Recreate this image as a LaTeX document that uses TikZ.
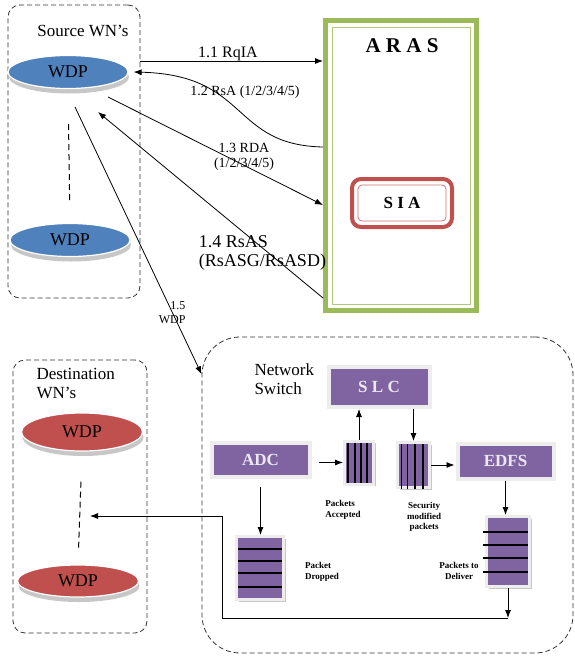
\documentclass[tikz,border=0pt]{standalone}
\usepackage{fontspec}
\setmainfont{Liberation Serif}
\usepackage{tikz}
\usetikzlibrary{arrows.meta}
\usetikzlibrary{shapes.geometric}
\usetikzlibrary{shadows}
\definecolor{wblue}   {RGB}{79,129,189}
\definecolor{wred}    {RGB}{192,80,77}
\definecolor{agreen}  {RGB}{155,187,89}
\definecolor{spurple} {RGB}{128,100,162}
\definecolor{slight}  {RGB}{236,232,242}
\tikzset{
    wnbox/.style={draw=black!80, line width=0.8pt, dash pattern=on 5pt off 3pt,
             rounded corners=12pt, inner sep=0pt},
    netbox/.style={wnbox, rounded corners=38pt},
    grouptitle/.style={font=\fontsize{17}{19}\selectfont, align=left},
    wdp/.style={ellipse, draw=white, line width=1.2pt, inner sep=0pt,
             minimum width=120pt, minimum height=33pt, font=\fontsize{18}{18}\selectfont,
             drop shadow={shadow xshift=1pt, shadow yshift=-5pt, fill=black!22, opacity=1}},
    wdpsrc/.style={wdp, fill=wblue},
    wdpdst/.style={wdp, fill=wred},
    dashline/.style={draw=black, line width=1pt, dash pattern=on 6pt off 4pt},
    arasbox/.style={draw=agreen, line width=5pt, fill=white, inner sep=0pt,
             minimum width=151pt, minimum height=290pt},
    arasinner/.style={draw=agreen!80, line width=1pt, inner sep=0pt,
             minimum width=138pt, minimum height=277pt},
    siabox/.style={draw=wred, line width=4pt, rounded corners=9pt, inner sep=0pt,
             minimum width=100pt, minimum height=48pt, font=\bfseries\fontsize{17}{17}\selectfont},
    siainner/.style={draw=wred!80, line width=0.8pt, rounded corners=4pt, inner sep=0pt,
             minimum width=88pt, minimum height=36pt},
    block/.style={fill=spurple, draw=black!7, line width=4pt, inner sep=0pt, text=slight,
             font=\bfseries\fontsize{17}{17}\selectfont,
             drop shadow={shadow xshift=2pt, shadow yshift=-2pt, fill=black!22, opacity=1}},
    queue/.style={fill=spurple, draw=black!7, line width=3pt, inner sep=0pt,
             drop shadow={shadow xshift=2pt, shadow yshift=-2pt, fill=black!22, opacity=1}},
    qline/.style={draw=black, line width=1.4pt},
    flow/.style={draw=black, line width=0.8pt, ->},
    msglabel/.style={font=\fontsize{16}{18}\selectfont, align=center},
    qlabel/.style={font=\bfseries\fontsize{9}{10.5}\selectfont}
  }
\begin{document}
\begin{tikzpicture}[x=1pt, y=-1pt, >={Latex[length=8pt,width=6pt]}]
  \useasboundingbox (0,0) rectangle (574,656);
  %Source WN's
      \node[wnbox, minimum width=132pt, minimum height=293pt] (src) at (74,151.5) {};
      \node[grouptitle] (srctitle) at (83,31) {Source WN's};
      \node[wdpsrc] (s1) at (68,72) {WDP};
      \node[wdpsrc] (s2) at (70,240) {WDP};
      \draw[dashline, shorten <=35pt, shorten >=20pt] (s1.south) -- (s2.north);
  %Destination WN's
      \node[wnbox, minimum width=134pt, minimum height=273pt] (dst) at (80,496.5) {};
      \node[grouptitle, anchor=west] (dsttitle) at (33,383) {Destination\\WN's};
      \node[wdpdst, minimum width=121pt, minimum height=38pt] (d1) at (82,432) {WDP};
      \node[wdpdst, minimum width=121pt, minimum height=32pt] (d2) at (78,581) {WDP};
      \draw[dashline, shorten <=30pt, shorten >=14pt] (d1.south) -- (d2.north);
  %ARAS
      \node[arasbox] (aras) at (401,165.5) {};
      \node[arasinner] (arasin) at (aras.center) {};
      \node[font=\bfseries\fontsize{21}{21}\selectfont] (arastitle) at (402,46) {A R A S};
      \node[siabox] (sia) at (402,203) {S I A};
      \node[siainner] (siain) at (sia.center) {};
  %Network Switch
      \node[netbox, minimum width=371pt, minimum height=316pt] (net) at (387.5,495) {};
      \node[grouptitle, anchor=west] (nettitle) at (251,379) {Network\\Switch};
      \node[block, minimum width=101pt, minimum height=40pt] (slc) at (379,387) {S L C};
      \node[block, minimum width=98pt, minimum height=34pt] (adc) at (260.5,460) {ADC};
      \node[block, minimum width=96pt, minimum height=35pt] (edfs) at (505.5,461) {EDFS};
      \node[queue, minimum width=29pt, minimum height=43pt] (acc) at (359,462.5) {};
      \node[queue, minimum width=32pt, minimum height=45pt] (sec) at (413.5,465) {};
      \node[queue, minimum width=43pt, minimum height=70pt] (del) at (508,551.5) {};
      \node[queue, minimum width=47pt, minimum height=63pt] (drop) at (260,568) {};
  % queue slots
      \foreach \dx in {-11,-4,2,8}
        \draw[qline, shorten <=3pt, shorten >=3pt] ([xshift=\dx pt]acc.north) -- ([xshift=\dx pt]acc.south);
      \foreach \dx in {-12,-6,1.5,9.5}
        \draw[qline, shorten <=3pt] ([xshift=\dx pt]sec.north) -- ([xshift=\dx pt]sec.south);
      \foreach \dy in {19.5,6.5,-6.5,-20.5}
        \draw[qline, shorten <=-2pt, shorten >=3pt] ([yshift=\dy pt]del.west) -- ([yshift=\dy pt]del.east);
      \foreach \dy in {19,7,-5,-19}
        \draw[qline, shorten <=3pt, shorten >=3pt] ([yshift=\dy pt]drop.west) -- ([yshift=\dy pt]drop.east);
  % queue labels
      \node[qlabel, align=left] (accl) at (343,510) {Packets\\Accepted};
      \node[qlabel, align=center] (secl) at (424,517) {Security\\modified\\packets};
      \node[qlabel, align=left] (dropl) at (322,572) {Packet\\Dropped};
      \node[qlabel, align=center] (dell) at (459,571) {Packets to\\Deliver};
  %1.1 RqIA
      \draw[flow] (src.east |- 0,61) -- (aras.west |- 0,61);
      \node[msglabel, anchor=base] (l11) at (228,57) {1.1 RqIA};
  %1.2 RsA
      \draw[flow] (aras.west |- 0,147) .. controls (230,145) and (250,75) .. ([xshift=5pt]s1.east);
      \node[msglabel, anchor=base, font=\fontsize{14}{16}\selectfont] (l12) at (245,95) {1.2 RsA (1/2/3/4/5)};
  %1.3 RDA
      \draw[flow] ([shift={(40,25)}]s1.center) -- (aras.west |- 0,205);
      \node[msglabel, font=\fontsize{14}{15}\selectfont] (l13) at (244,157) {1.3 RDA\\(1/2/3/4/5)};
  %1.4 RsAS
      \draw[flow] (aras.west |- 0,298) -- ([shift={(30,40)}]s1.center);
      \node[msglabel, align=left, font=\fontsize{18}{19}\selectfont] (l14) at (262.5,253) {1.4 RsAS\\(RsASG/RsASD)};
  %1.5 WDP
      \draw[flow] ([shift={(7,35)}]s1.center) -- (net.147);
      \node[msglabel, align=right, anchor=east, font=\fontsize{12}{14}\selectfont] (l15) at (189,313) {1.5\\WDP};
  % switch internals
      \draw[flow, shorten <=7pt] (adc.east |- acc.west) -- (acc.west);
      \draw[flow] (acc.north) -- (acc.north |- slc.south);
      \draw[flow] (slc.south -| sec.north) -- (sec.north);
      \draw[flow, shorten >=1pt] (sec.east) -- (sec.east -| edfs.west);
      \draw[flow, shorten <=8pt] (adc.south) -- (adc.south |- drop.north);
      \draw[flow] (edfs.south) -- (edfs.south |- del.north);
  % delivery back to destination
      \coordinate (turn) at (del.south |- 0,618);
      \coordinate (bend) at (222,516);
      \coordinate (dstin) at (90,516);
      \draw[flow] (del.south) -- (turn);
      \draw[flow] (turn) -| (bend) -- (dstin);
  \end{tikzpicture}
\end{document}
